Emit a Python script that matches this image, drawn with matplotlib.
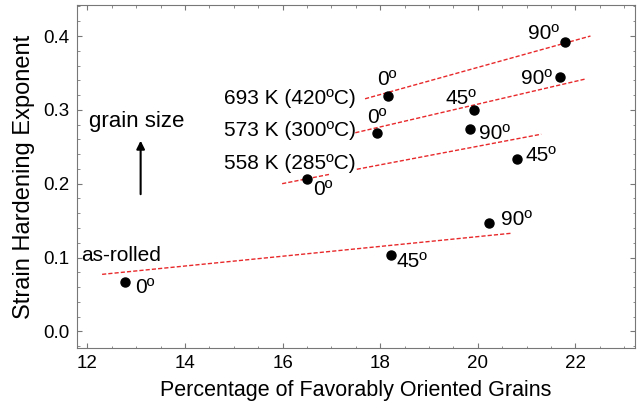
import matplotlib
matplotlib.use("Agg")
import matplotlib.pyplot as plt
from matplotlib.ticker import MultipleLocator, FormatStrFormatter

plt.rcParams['font.family'] = ['Liberation Sans', 'DejaVu Sans']

# Data points: percentage of favorably oriented grains vs strain hardening exponent
asrolled_x = [12.76, 18.22, 20.23]
asrolled_y = [0.067, 0.104, 0.147]
asrolled_lab = ["0º", "45º", "90º"]

k558_x = [16.51, 20.80, 19.85]
k558_y = [0.206, 0.234, 0.274]
k558_lab = ["0º", "45º", "90º"]

k573_x = [17.94, 19.93, 21.68]
k573_y = [0.268, 0.300, 0.345]
k573_lab = ["0º", "45º", "90º"]

k693_x = [18.16, 21.78]
k693_y = [0.319, 0.392]
k693_lab = ["0º", "90º"]

# Trend lines (endpoints)
fit_asrolled_x = [12.30, 20.71]
fit_asrolled_y = [0.0772, 0.133]
fit_558a_x = [15.99, 16.95]
fit_558a_y = [0.200, 0.2125]
fit_558b_x = [17.52, 21.30]
fit_558b_y = [0.2195, 0.267]
fit_573_x = [17.49, 22.22]
fit_573_y = [0.269, 0.342]
fit_693_x = [17.69, 22.31]
fit_693_y = [0.315, 0.400]

# Label positions (left edge x, center y)
asrolled_lpos = [(12.98, 0.059), (18.34, 0.094), (20.47, 0.151)]
k558_lpos = [(16.63, 0.192), (20.97, 0.238), (20.02, 0.268)]
k573_lpos = [(17.74, 0.290), (19.34, 0.316), (20.89, 0.343)]
k693_lpos = [(17.94, 0.341), (21.03, 0.404)]

fig = plt.figure(figsize=(6.42, 4.08), dpi=100)
ax = fig.add_axes([0.1195, 0.147, 0.869, 0.8407])

red = "#e8282a"
for fx, fy in [(fit_asrolled_x, fit_asrolled_y), (fit_558a_x, fit_558a_y),
               (fit_558b_x, fit_558b_y), (fit_573_x, fit_573_y), (fit_693_x, fit_693_y)]:
    ax.plot(fx, fy, color=red, lw=1.0, ls=(0, (3, 1.5)))

fs = 15
for xs, ys, labs, lpos in [(asrolled_x, asrolled_y, asrolled_lab, asrolled_lpos),
                           (k558_x, k558_y, k558_lab, k558_lpos),
                           (k573_x, k573_y, k573_lab, k573_lpos),
                           (k693_x, k693_y, k693_lab, k693_lpos)]:
    ax.plot(xs, ys, 'o', color='black', ms=6.5, ls='none', zorder=3)
    for lab, (lx, ly) in zip(labs, lpos):
        ax.text(lx, ly, lab, fontsize=fs, ha='left', va='center')

ax.text(17.50, 0.315, "693 K (420ºC)", fontsize=fs, ha='right', va='center')
ax.text(17.50, 0.272, "573 K (300ºC)", fontsize=fs, ha='right', va='center')
ax.text(17.50, 0.227, "558 K (285ºC)", fontsize=fs, ha='right', va='center')
ax.text(13.0, 0.284, "grain size", fontsize=16, ha='center', va='center')
ax.text(11.88, 0.103, "as-rolled", fontsize=fs, ha='left', va='center')
ax.annotate("", xy=(13.09, 0.262), xytext=(13.09, 0.182),
            arrowprops=dict(arrowstyle='-|>', color='black', lw=1.5, mutation_scale=12))

ax.set_xlim(11.78, 23.215)
ax.set_ylim(-0.0226, 0.442)
ax.xaxis.set_major_locator(MultipleLocator(2))
ax.xaxis.set_minor_locator(MultipleLocator(0.5))
ax.yaxis.set_major_locator(MultipleLocator(0.1))
ax.yaxis.set_minor_locator(MultipleLocator(0.02))
ax.yaxis.set_major_formatter(FormatStrFormatter('%.1f'))
ax.tick_params(which='both', direction='in', top=True, right=True, color='#777777')
ax.tick_params(which='major', length=3.5, labelsize=13.5, width=0.8, pad=5)
ax.tick_params(which='minor', length=1.8, width=0.6)
for s in ax.spines.values():
    s.set_color('#777777')
    s.set_linewidth(0.8)

ax.set_xlabel("Percentage of Favorably Oriented Grains", fontsize=15.5, labelpad=6)
ax.set_ylabel("Strain Hardening Exponent", fontsize=17, labelpad=6)

fig.savefig("out.png", dpi=100)
